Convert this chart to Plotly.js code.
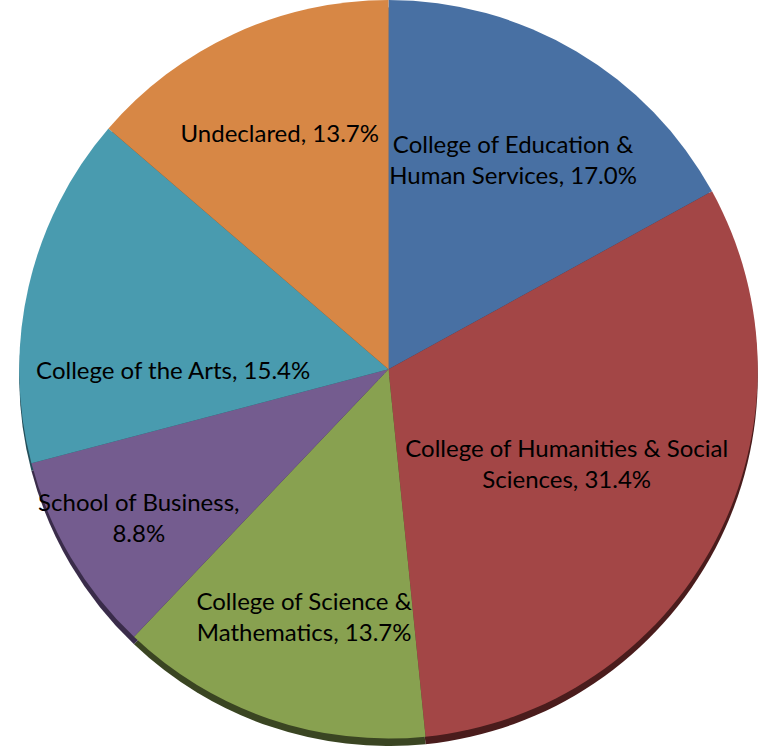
<!DOCTYPE html>
<html>
<head>
<meta charset="utf-8">
<script src="https://cdn.plot.ly/plotly-3.0.1.min.js"></script>
<style>
html,body{margin:0;padding:0;background:#fff;}
#chart{width:758px;height:746px;}
</style>
</head>
<body>
<div id="chart"></div>
<script>
const categories = [
  "College of Education & Human Services",
  "College of Humanities & Social Sciences",
  "College of Science & Mathematics",
  "School of Business",
  "College of the Arts",
  "Undeclared"
];
const labelText = [
  "College of Education &<br>Human Services, 17.0%",
  "College of Humanities & Social<br>Sciences, 31.4%",
  "College of Science &<br>Mathematics, 13.7%",
  "School of Business,<br>8.8%",
  "College of the Arts, 15.4%",
  "Undeclared, 13.7%"
];
const percents = [17.0, 31.4, 13.7, 8.8, 15.4, 13.7];
const colors = ["#4870a3", "#a34646", "#88a150", "#745c8f", "#499baf", "#d78745"];
const edgeColors = ["#26405f", "#4a1c1c", "#3a4522", "#3a2c4a", "#244e59", "#6a4020"];

const rimTrace = {
  type: "pie",
  values: percents,
  labels: categories,
  sort: false,
  direction: "clockwise",
  rotation: 0,
  marker: {colors: edgeColors, line: {width: 0}},
  textinfo: "none",
  hoverinfo: "skip",
  showlegend: false,
  domain: {x: [0.025, 1], y: [0.0, 0.99]}
};

const mainTrace = {
  type: "pie",
  values: percents,
  labels: categories,
  text: labelText,
  sort: false,
  direction: "clockwise",
  rotation: 0,
  marker: {colors: colors, line: {width: 0}},
  texttemplate: "%{text}",
  textposition: "inside",
  insidetextorientation: "horizontal",
  textfont: {family: "Lato, 'Open Sans', sans-serif", size: 24, color: "#000"},
  showlegend: false,
  domain: {x: [0.025, 1], y: [0.01, 1]}
};

const layout = {
  width: 758,
  height: 746,
  margin: {l: 0, r: 0, t: 0, b: 0},
  paper_bgcolor: "#ffffff",
  showlegend: false,
  uniformtext: {mode: "show", minsize: 24}
};

Plotly.newPlot("chart", [rimTrace, mainTrace], layout, {displayModeBar: false, staticPlot: true});
</script>
</body>
</html>
